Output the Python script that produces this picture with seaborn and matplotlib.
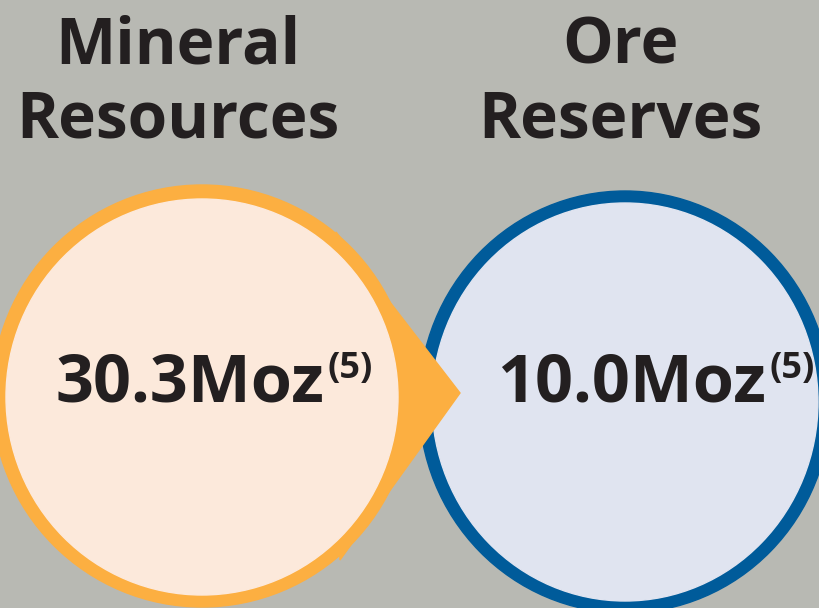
import matplotlib
matplotlib.use("Agg")
import matplotlib.pyplot as plt
import seaborn as sns
from matplotlib.patches import Ellipse, Polygon

# ---- data ----
categories = ["Mineral\nResources", "Ore\nReserves"]
values = ["30.3Moz", "10.0Moz"]
footnotes = ["(5)", "(5)"]

sns.set_theme(style="white")
plt.rcParams["font.family"] = ["Open Sans", "DejaVu Sans"]

BG = "#B8B9B3"
ORANGE = "#FCAF41"
PEACH = "#FCE9DB"
BLUE = "#005B9A"
LBLUE = "#E0E4F0"
INK = "#231F20"

W, H = 819, 608
fig = plt.figure(figsize=(W / 100, H / 100), dpi=100, facecolor=BG)
ax = fig.add_axes([0, 0, 1, 1])
ax.set_xlim(0, W)
ax.set_ylim(H, 0)
ax.set_facecolor(BG)
ax.axis("off")

# blue circle (Ore Reserves)
ax.add_patch(Ellipse((625, 402), 2 * 206, 2 * 211, color=BLUE, zorder=1))
ax.add_patch(Ellipse((625, 402), 2 * 193, 2 * 199, color=LBLUE, zorder=2))
# orange circle (Mineral Resources)
ax.add_patch(Ellipse((202, 396), 2 * 210, 2 * 211, color=ORANGE, zorder=3))
ax.add_patch(Polygon([(336, 232), (460, 393), (340, 560)], closed=True,
                     color=ORANGE, zorder=4))
ax.add_patch(Ellipse((202, 397), 2 * 196, 2 * 198, color=PEACH, zorder=5))

# headings
ax.text(178, 84, categories[0], ha="center", va="center", fontsize=46,
        fontweight="bold", color=INK, linespacing=1.17, zorder=6)
ax.text(620, 84, categories[1], ha="center", va="center", fontsize=46,
        fontweight="bold", color=INK, linespacing=1.17, zorder=6)

# values with superscript footnotes
fig.canvas.draw()
renderer = fig.canvas.get_renderer()
for x0, val, fn in [(55, values[0], footnotes[0]), (497, values[1], footnotes[1])]:
    t = ax.text(x0, 402, val, ha="left", va="baseline", fontsize=48,
                fontweight="bold", color=INK, zorder=6)
    bb = t.get_window_extent(renderer)
    xr = ax.transData.inverted().transform((bb.x1, bb.y0))[0]
    ax.text(xr + 4, 378, fn, ha="left", va="baseline", fontsize=26,
            fontweight="bold", color=INK, zorder=6)

fig.savefig("out.png", dpi=100, facecolor=BG)
